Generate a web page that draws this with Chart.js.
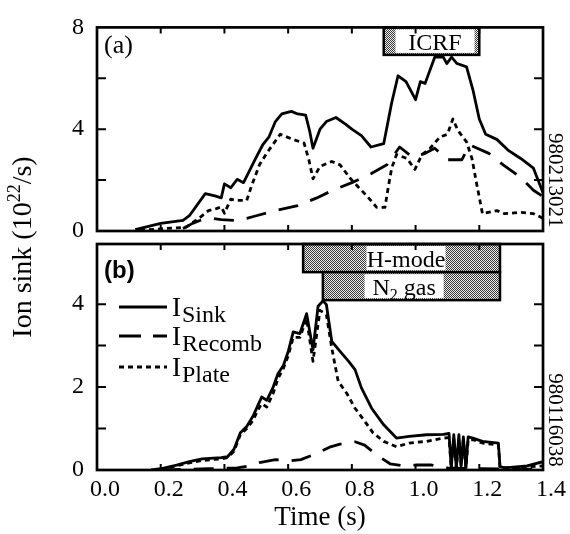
<!DOCTYPE html>
<html><head><meta charset="utf-8">
<script src="https://cdn.jsdelivr.net/npm/chart.js@4.4.1/dist/chart.umd.min.js"></script>
<style>
html,body{margin:0;padding:0;background:#fff;}
#wrap{position:relative;width:570px;height:534px;background:#fff;}
canvas{position:absolute;left:0;top:0;}
</style></head><body>
<div id="wrap"><canvas id="ca" width="570" height="534"></canvas><canvas id="cb" width="570" height="534"></canvas></div>
<script>
// ---------- DATA ----------
const xTickVals = [0, 0.2, 0.4, 0.6, 0.8, 1.0, 1.2, 1.4];
const xTickLabels = ['0.0', '0.2', '0.4', '0.6', '0.8', '1.0', '1.2', '1.4'];
const yTickValsA = [0, 2, 4, 6, 8];
const yTickLabelsA = ['0', '', '4', '', '8'];
const yTickValsB = [0, 1, 2, 3, 4];
const yTickLabelsB = ['0', '', '2', '', '4'];
const yMaxA = 8;
const yMaxB = 5.45;

// Panel (a)
const aSinkT = [0.12,0.20,0.27,0.29,0.34,0.37,0.39,0.40,0.42,0.44,0.46,0.50,0.52,0.54,0.56,0.58,0.61,0.63,0.655,0.668,0.678,0.70,0.72,0.75,0.78,0.80,0.83,0.86,0.90,0.925,0.945,0.97,1.00,1.015,1.03,1.06,1.087,1.098,1.113,1.13,1.16,1.18,1.20,1.22,1.255,1.29,1.33,1.37,1.40];
const aSinkV = [0.05,0.3,0.42,0.6,1.47,1.38,1.3,1.85,1.7,2.03,1.9,2.9,3.38,3.7,4.3,4.6,4.7,4.6,4.55,3.9,3.25,4.0,4.3,4.46,4.2,4.0,3.75,3.3,3.43,5.04,6.1,5.87,5.16,5.87,5.8,6.83,6.83,6.58,6.83,6.58,6.45,5.55,4.4,3.8,3.6,3.18,2.85,2.47,1.5];
const aRecT = [0.27,0.30,0.33,0.36,0.39,0.43,0.47,0.50,0.56,0.63,0.69,0.74,0.80,0.86,0.91,0.95,0.99,1.03,1.06,1.10,1.145,1.17,1.23,1.275,1.33,1.37,1.40];
const aRecV = [0.1,0.3,0.45,0.5,0.45,0.42,0.5,0.6,0.8,1.0,1.3,1.6,1.9,2.25,2.6,3.3,2.9,3.05,3.25,2.8,2.8,3.38,3.05,2.6,2.1,1.6,1.35];
const aPlateT = [0.135,0.28,0.32,0.35,0.375,0.39,0.40,0.42,0.44,0.47,0.485,0.51,0.535,0.575,0.615,0.65,0.665,0.678,0.70,0.737,0.763,0.794,0.826,0.847,0.878,0.904,0.914,0.925,0.94,0.973,0.998,1.02,1.045,1.077,1.10,1.117,1.133,1.16,1.177,1.192,1.21,1.255,1.28,1.33,1.37,1.40];
const aPlateV = [0.03,0.15,0.5,0.8,0.88,0.95,0.7,1.25,1.2,1.2,1.77,2.6,3.1,3.8,3.6,3.45,2.8,2.05,2.54,2.73,2.6,2.08,1.65,1.38,0.93,0.93,1.7,2.47,3.0,2.85,2.42,3.0,3.24,3.7,3.8,4.4,3.95,3.5,2.85,1.84,0.68,0.8,0.68,0.73,0.68,0.5];

// Panel (b)
const bSinkT = [0.17,0.20,0.25,0.29,0.33,0.39,0.41,0.43,0.45,0.47,0.49,0.505,0.517,0.533,0.553,0.568,0.585,0.60,0.616,0.637,0.658,0.678,0.694,0.71,0.72,0.737,0.763,0.79,0.81,0.83,0.862,0.90,0.94,0.98,1.035,1.087,1.105,1.112,1.12,1.128,1.136,1.143,1.15,1.158,1.165,1.18,1.21,1.26,1.265,1.28,1.35,1.40];
const bSinkV = [0,0.03,0.12,0.2,0.27,0.3,0.32,0.5,0.9,1.05,1.3,1.56,1.76,1.68,2.0,2.32,2.52,2.85,3.33,3.29,3.77,2.9,3.95,4.08,3.99,3.1,2.86,2.62,2.42,1.98,1.49,1.09,0.77,0.81,0.85,0.86,0.88,0.05,0.85,0.05,0.85,0.1,0.8,0.05,0.8,0.77,0.69,0.65,0.08,0.05,0.1,0.2];
const bRecT = [0.2,0.35,0.44,0.48,0.51,0.56,0.60,0.64,0.69,0.73,0.76,0.81,0.84,0.88,0.92,0.96,1.0,1.05,1.1,1.2,1.3,1.4];
const bRecV = [0,0.03,0.05,0.1,0.18,0.25,0.22,0.25,0.4,0.55,0.62,0.68,0.6,0.35,0.15,0.1,0.12,0.12,0.05,0.03,0.02,0.02];
const bPlateT = [0.2,0.25,0.29,0.33,0.39,0.41,0.43,0.45,0.47,0.49,0.505,0.517,0.533,0.553,0.568,0.585,0.60,0.616,0.637,0.658,0.678,0.70,0.72,0.737,0.757,0.784,0.81,0.841,0.867,0.90,0.94,0.98,1.035,1.087,1.105,1.112,1.12,1.128,1.136,1.143,1.15,1.158,1.165,1.18,1.21,1.26,1.265,1.30,1.40];
const bPlateV = [0.02,0.1,0.17,0.23,0.27,0.3,0.45,0.85,1.0,1.2,1.45,1.6,1.52,1.85,2.2,2.45,2.75,3.2,3.2,3.65,2.62,3.85,3.75,2.94,2.14,1.85,1.49,1.17,0.89,0.69,0.56,0.65,0.69,0.77,0.78,0.05,0.75,0.05,0.75,0.1,0.72,0.05,0.72,0.73,0.65,0.6,0.06,0.05,0.1];

// Names (segments: [text, 0=normal,1=sub,2=sup])
const seriesNames = [[['I',0],['Sink',1]], [['I',0],['Recomb',1]], [['I',0],['Plate',1]]];
const yTitle = [['Ion sink (10',0],['22',2],['/s)',0]];
const xTitle = 'Time (s)';
const shotA = '980213021';
const shotB = '980116038';

// Phase bars (time start, time end, y low, y high, label centre time)
const phaseNamesA = [[['ICRF',0]]];
const phaseStartA = [0.9];
const phaseEndA = [1.2];
const phaseLowA = [6.92];
const phaseHighA = [8];
const phaseLabelTA = [1.061];
const phaseNamesB = [[['H-mode',0]], [['N',0],['2',1],[' gas',0]]];
const phaseStartB = [0.647, 0.709];
const phaseEndB = [1.265, 1.265];
const phaseLowB = [4.771, 4.096];
const phaseHighB = [5.45, 4.771];
const phaseLabelTB = [0.970, 0.964];

// ---------- DRAWING ----------
const SERIF = "'Liberation Serif','Times New Roman',serif";
const SANS = "'Liberation Sans',Arial,sans-serif";
Chart.defaults.font.family = SERIF;
Chart.defaults.color = '#000';

const stipCanvas = (() => {
  const c = document.createElement('canvas'); c.width = 2; c.height = 2;
  const g = c.getContext('2d');
  g.fillStyle = '#ececec'; g.fillRect(0, 0, 2, 2);
  g.fillStyle = '#3a3a3a'; g.fillRect(0, 0, 1, 1); g.fillRect(1, 1, 1, 1);
  return c;
})();

function segWidth(ctx, segs, size, small) {
  let w = 0;
  segs.forEach(s => { ctx.font = (s[1] ? small : size) + 'px ' + SERIF; w += ctx.measureText(s[0]).width; });
  return w;
}
function drawSegs(ctx, segs, x, y, size, small, shift, align) {
  const w = segWidth(ctx, segs, size, small);
  let cx = align === 'center' ? x - w / 2 : x;
  ctx.textAlign = 'left';
  ctx.textBaseline = 'alphabetic';
  segs.forEach(s => {
    ctx.font = (s[1] ? small : size) + 'px ' + SERIF;
    const dy = s[1] === 1 ? shift : (s[1] === 2 ? -shift : 0);
    ctx.fillText(s[0], cx, y + dy);
    cx += ctx.measureText(s[0]).width;
  });
}

const decor = {
  id: 'decor',
  afterDraw(chart, args, o) {
    const {ctx, chartArea: {left, right, top, bottom}, scales: {x, y}} = chart;
    ctx.save();
    ctx.fillStyle = '#000';
    ctx.strokeStyle = '#000';
    // phase bars
    const n = o.names.length;
    for (let i = 0; i < n; i++) {
      const x1 = x.getPixelForValue(o.start[i]), x2 = x.getPixelForValue(o.end[i]);
      const y1 = y.getPixelForValue(o.high[i]), y2 = y.getPixelForValue(o.low[i]);
      ctx.fillStyle = ctx.createPattern(stipCanvas, 'repeat');
      ctx.fillRect(x1, y1, x2 - x1, y2 - y1);
      const cx = x.getPixelForValue(o.labelT[i]);
      ctx.fillStyle = '#fff';
      ctx.fillRect(cx - 39.5, y1 + 2, 79, y2 - y1 - 4);
      ctx.lineWidth = 2.5;
      ctx.strokeRect(x1, y1, x2 - x1, y2 - y1);
      ctx.fillStyle = '#000';
      drawSegs(ctx, o.names[i], cx, (y1 + y2) / 2 + 8.5, 24, 16, 5, 'center');
    }
    // frame
    ctx.lineWidth = 2.7;
    ctx.strokeRect(left, top, right - left, bottom - top);
    ctx.lineWidth = 2;
    ctx.beginPath();
    x.ticks.forEach(t => {
      if (t.value <= x.min || t.value >= x.max) return;
      const px = x.getPixelForValue(t.value);
      ctx.moveTo(px, bottom); ctx.lineTo(px, bottom - 6);
      ctx.moveTo(px, top); ctx.lineTo(px, top + 6);
    });
    y.ticks.forEach(t => {
      if (t.value <= y.min || t.value >= y.max) return;
      const py = y.getPixelForValue(t.value);
      ctx.moveTo(left, py); ctx.lineTo(left + 9, py);
      ctx.moveTo(right, py); ctx.lineTo(right - 9, py);
    });
    ctx.stroke();
    // panel tag
    ctx.fillStyle = '#000';
    ctx.textAlign = 'left'; ctx.textBaseline = 'alphabetic';
    ctx.font = o.tagFont;
    ctx.fillText(o.tag, left + 7, top + o.tagDy);
    // shot number (rotated clockwise)
    ctx.save();
    ctx.translate(right + 6, (top + bottom) / 2 + o.shotDy);
    ctx.rotate(Math.PI / 2);
    ctx.font = '21px ' + SERIF;
    ctx.textAlign = 'center';
    ctx.fillText(o.shot, 0, 0);
    ctx.restore();
    // legend
    if (o.legend) {
      const rows = [307, 336, 367];
      const dashes = [[], [22, 12], [5, 4]];
      ctx.lineWidth = 2.8;
      rows.forEach((ry, i) => {
        ctx.setLineDash(dashes[i]);
        ctx.beginPath(); ctx.moveTo(119, ry); ctx.lineTo(167, ry); ctx.stroke();
        ctx.setLineDash([]);
        const segs = seriesNames[i];
        ctx.font = '27px ' + SERIF; ctx.textAlign = 'left'; ctx.textBaseline = 'alphabetic';
        ctx.fillText(segs[0][0], 172, ry + 9);
        const w = ctx.measureText(segs[0][0]).width;
        ctx.font = '24px ' + SERIF;
        ctx.fillText(segs[1][0], 172 + w + 1, ry + 15);
      });
    }
    // y title
    if (o.yTitle) {
      ctx.save();
      ctx.translate(31, 247);
      ctx.rotate(-Math.PI / 2);
      drawSegs(ctx, yTitle, 0, 0, 28, 18, 11, 'center');
      ctx.restore();
    }
    ctx.restore();
  }
};

function ds(t, v, dash) {
  return {
    data: t.map((tt, i) => ({x: tt, y: v[i]})),
    borderColor: '#000', borderWidth: 2.8, borderDash: dash,
    pointRadius: 0, fill: false, tension: 0, borderJoinStyle: 'round'
  };
}
function yScale(max, vals, labels) {
  return {
    type: 'linear', min: 0, max: max,
    afterBuildTicks: s => { s.ticks = vals.map(v => ({value: v})); },
    afterFit: s => { s.width = 97; },
    grid: {display: false, drawTicks: false}, border: {display: false},
    ticks: {padding: 13, font: {size: 24}, color: '#000', autoSkip: false, callback: (v, i) => labels[i]}
  };
}

new Chart(document.getElementById('ca'), {
  type: 'line',
  data: {datasets: [ds(aSinkT, aSinkV, []), ds(aRecT, aRecV, [20, 13]), ds(aPlateT, aPlateV, [5, 4])]},
  options: {
    responsive: false, animation: false, events: [],
    layout: {padding: {left: 0, right: 27, top: 23, bottom: 303}},
    plugins: {legend: {display: false}, tooltip: {enabled: false},
      decor: {names: phaseNamesA, start: phaseStartA, end: phaseEndA, low: phaseLowA, high: phaseHighA, labelT: phaseLabelTA,
        tag: '(a)', tagFont: '26px ' + SERIF, tagDy: 26, shot: shotA, shotDy: 51, legend: false, yTitle: false}},
    scales: {
      x: {type: 'linear', min: 0, max: 1.4, display: false,
        afterBuildTicks: s => { s.ticks = xTickVals.map(v => ({value: v})); }},
      y: yScale(yMaxA, yTickValsA, yTickLabelsA)
    }
  },
  plugins: [decor]
});

new Chart(document.getElementById('cb'), {
  type: 'line',
  data: {datasets: [ds(bSinkT, bSinkV, []), ds(bRecT, bRecV, [20, 13]), ds(bPlateT, bPlateV, [5, 4])]},
  options: {
    responsive: false, animation: false, events: [],
    layout: {padding: {left: 0, right: 27, top: 244, bottom: 0}},
    plugins: {legend: {display: false}, tooltip: {enabled: false},
      decor: {names: phaseNamesB, start: phaseStartB, end: phaseEndB, low: phaseLowB, high: phaseHighB, labelT: phaseLabelTB,
        tag: '(b)', tagFont: 'bold 24px ' + SANS, tagDy: 34, shot: shotB, shotDy: 63, legend: true, yTitle: true}},
    scales: {
      x: {type: 'linear', min: 0, max: 1.4, position: 'bottom',
        afterBuildTicks: s => { s.ticks = xTickVals.map(v => ({value: v})); },
        afterFit: s => { s.height = 64; },
        grid: {display: false, drawTicks: false}, border: {display: false},
        ticks: {padding: 5, labelOffset: 8, font: {size: 24}, color: '#000', autoSkip: false, maxRotation: 0,
          callback: (v, i) => xTickLabels[i]},
        title: {display: true, text: xTitle, font: {size: 27}, color: '#000', padding: {top: 0, bottom: 0}}},
      y: yScale(yMaxB, yTickValsB, yTickLabelsB)
    }
  },
  plugins: [decor]
});
</script>
</body></html>
